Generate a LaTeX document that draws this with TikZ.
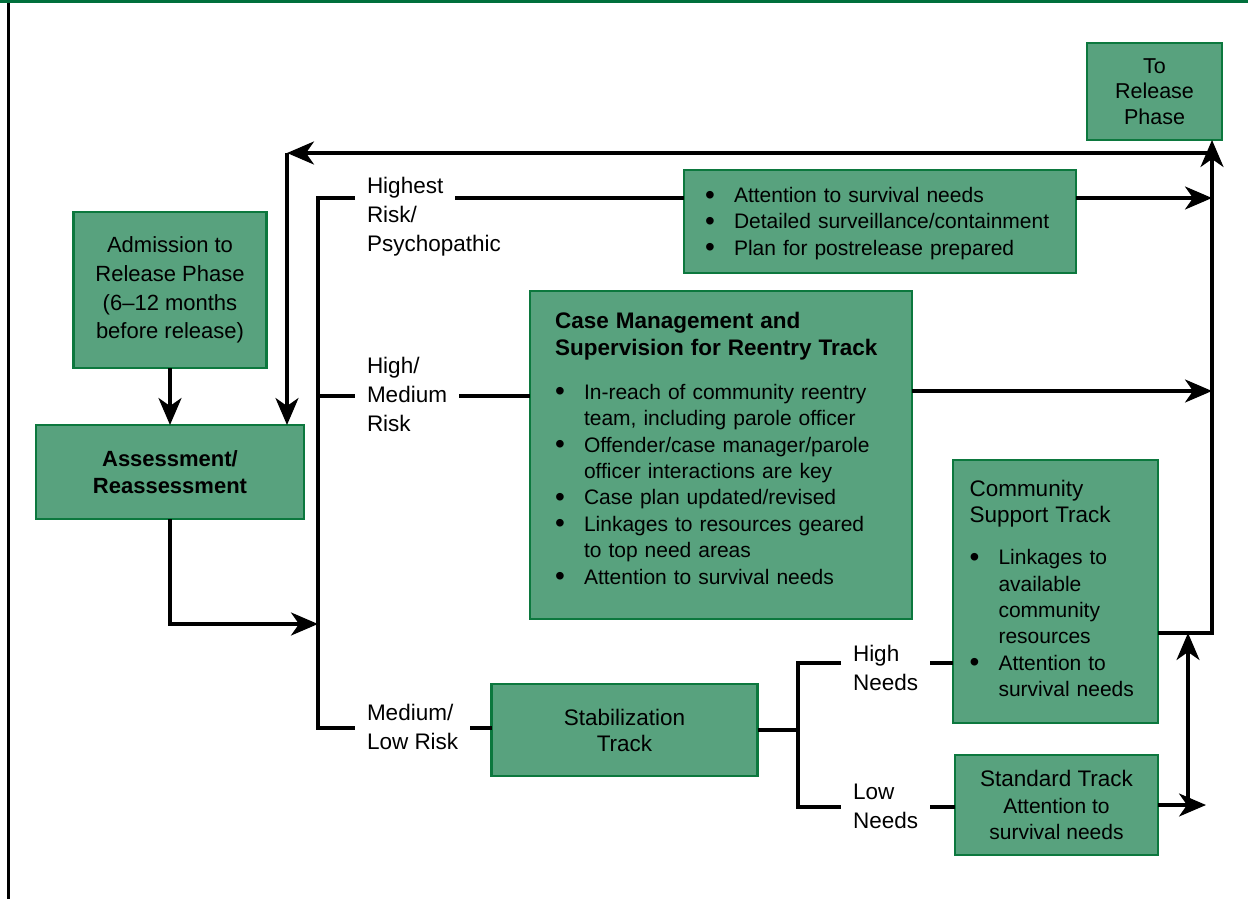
\documentclass[tikz,border=0pt]{standalone}
\usepackage{fontspec}
\setmainfont{Liberation Sans}
\usepackage{tikz}
\usetikzlibrary{arrows.meta}
\definecolor{boxfill}{RGB}{88,162,126}
\definecolor{boxline}{RGB}{12,120,62}
\definecolor{topbar}{RGB}{0,112,60}
\newcommand{\bodyfont}{\fontsize{21}{26.4}\selectfont}
\newcommand{\labfont}{\fontsize{22.5}{29}\selectfont}
\newcommand{\bul}{\makebox[29pt][l]{\raisebox{-1.5pt}{\fontsize{28}{28}\selectfont\textbullet}}}
\newcommand{\ind}{\hspace*{29pt}}

\begin{document}
\begin{tikzpicture}
  [
    x=1pt, y=-1pt,
    Box/.style={draw=boxline, fill=boxfill, line width=2.6pt, inner sep=0pt, outer sep=0pt, align=center, font=\labfont},
    Label/.style={inner xsep=12pt, inner ysep=0pt, outer sep=0pt, align=left, anchor=north west, font=\labfont},
    Line/.style={line width=3.2pt},
    Arrow/.style={line width=3.2pt, -{Stealth[length=27pt, width=23pt, inset=8pt]}}
  ]
  \useasboundingbox (0,0) rectangle (1248,899);
  % Frame
  \fill[topbar] (0,0) rectangle (1248,3.5);
  \draw[line width=3pt] (8.5,3.5) -- (8.5,899);
  % Nodes
  \node[Box, minimum width=135pt, minimum height=97pt, font=\fontsize{21.5}{25.5}\selectfont] (release) at (1154.5,91.5) {To\\Release\\Phase};
  \node[Box, minimum width=193pt, minimum height=156pt, font=\fontsize{22}{28.7}\selectfont] (admit) at (170,290) {Admission to\\Release Phase\\(6--12 months\\before release)};
  \node[Box, minimum width=268pt, minimum height=94pt, font=\bfseries\fontsize{22}{27}\selectfont] (assess) at (170,472) {Assessment/\\Reassessment};
  \node[Box, minimum width=392pt, minimum height=103pt, text width=350pt, align=left, font=\bodyfont] (psych) at (880,221.5)
    {\bul Attention to survival needs\\
     \bul Detailed surveillance/containment\\
     \bul Plan for postrelease prepared\par\kern-4pt};
  \node[Box, minimum width=382pt, minimum height=328pt, text width=332pt, align=left, font=\bodyfont] (cm) at (721,455)
    {{\bfseries\fontsize{22.5}{26.4}\selectfont Case Management and\\Supervision for Reentry Track}\\[17.6pt]
     \bul In-reach of community reentry\\
     \ind team, including parole officer\\
     \bul Offender/case manager/parole\\
     \ind officer interactions are key\\
     \bul Case plan updated/revised\\
     \bul Linkages to resources geared\\
     \ind to top need areas\\
     \bul Attention to survival needs\par\kern12pt};
  \node[Box, minimum width=205pt, minimum height=263pt, text width=172pt, align=left, font=\bodyfont] (comm) at (1055.5,591.5)
    {{\fontsize{22.5}{26.6}\selectfont Community\\Support Track}\\[15.5pt]
     \bul Linkages to\\
     \ind available\\
     \ind community\\
     \ind resources\\
     \bul Attention to\\
     \ind survival needs\par\kern6pt};
  \node[Box, minimum width=266pt, minimum height=92pt, font=\fontsize{22.5}{26}\selectfont] (stab) at (624.5,730) {Stabilization\\Track};
  \node[Box, minimum width=203pt, minimum height=100pt, font=\bodyfont] (std) at (1056.5,805)
    {{\fontsize{22.5}{26.5}\selectfont Standard Track}\\Attention to\\survival needs};
  \node[Label] (hst) at (355,177) {Highest};
  \node[Label] (hstb) at (355,206) {Risk/\\Psychopathic};
  \node[Label] (hm) at (355,357) {High/\\Medium\\Risk};
  \node[Label] (ml) at (355,704) {Medium/\\Low Risk};
  \node[Label] (hn) at (841,645) {High\\Needs};
  \node[Label] (ln) at (841,784) {Low\\Needs};
  \coordinate (r1) at (318,198);
  \coordinate (r2) at (318,396);
  \coordinate (r3) at (318,728);
  \coordinate (join) at (318,624);
  \coordinate (s1) at (798,663);
  \coordinate (s2) at (798,807);
  \coordinate (rail) at ([xshift=57.5pt]release.south);
  \coordinate (fbr) at ([yshift=-13pt]rail);
  \coordinate (fbl) at (287,153);
  \coordinate (cmo) at ([yshift=64pt]cm.east);
  \coordinate (cso) at ([yshift=-41.5pt]comm.east);
  \coordinate (stdend) at ([xshift=48pt]std.east);
  \coordinate (upb) at ([xshift=30pt]std.east);
  % Lines
  \draw[Arrow] (admit) -- (assess);
  \draw[Arrow] (assess.south) |- (join);
  \draw[Line] (r1 -| hst.west) -- (r1) -- (r3) -- (r3 -| ml.west);
  \draw[Line] (r2) -- (r2 -| hm.west);
  \draw[Line] (r1 -| hst.east) -- (r1 -| psych.west);
  \draw[Line] (r2 -| hm.east) -- (r2 -| cm.west);
  \draw[Line] (r3 -| ml.east) -- (r3 -| stab.west);
  \draw[Line] (stab.east) -- (stab.east -| s1);
  \draw[Line] (s1 -| hn.west) -- (s1) -- (s2) -- (s2 -| ln.west);
  \draw[Line] (s1 -| hn.east) -- (s1 -| comm.west);
  \draw[Line] (s2 -| ln.east) -- (s2 -| std.west);
  \draw[Arrow] (r1 -| psych.east) -- (r1 -| rail);
  \draw[Arrow] (cmo) -- (cmo -| rail);
  \draw[Arrow] (cso) -| (rail);
  \draw[Arrow] (fbr) -- (fbl);
  \draw[Arrow] (fbl) -- (fbl |- assess.north);
  \draw[Arrow] (std.east) -- (stdend);
  \draw[Arrow] (upb) -- (upb |- cso);
\end{tikzpicture}
\end{document}
